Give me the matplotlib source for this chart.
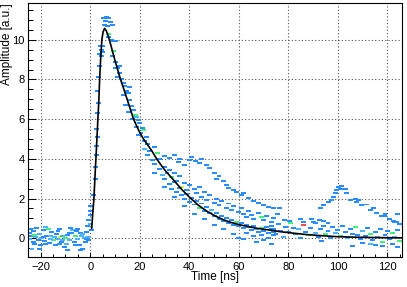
import numpy as np
import matplotlib
matplotlib.use("Agg")
import matplotlib.pyplot as plt
from matplotlib.ticker import MultipleLocator

plt.rcParams['font.family'] = ['Liberation Sans', 'DejaVu Sans']

# fit curve
fit_t = [0.6, 1.0, 1.5, 2.0, 2.3, 2.7, 3.1, 3.5, 3.8, 4.2, 4.7, 5.2, 5.8, 6.5, 7.5,
         8.5, 10.0, 12.1, 14.0, 15.8, 17.5, 19.5, 21.5, 23.2, 24.9, 26.9, 30.0, 33.6,
         37.0, 40.4, 43.5, 47.1, 50.5, 53.8, 57.0, 60.6, 64.0, 67.3, 72.7, 76.7, 81.0,
         86.1, 92.0, 99.6, 108.0, 117.0, 126.0]
fit_a = [0.5, 1.2, 2.0, 3.3, 4.0, 5.0, 6.0, 7.0, 8.0, 9.0, 10.0, 10.4, 10.57, 10.45, 10.1,
         9.65, 8.95, 8.06, 7.35, 6.65, 6.0, 5.45, 5.0, 4.7, 4.4, 3.98, 3.45, 2.94,
         2.45, 2.03, 1.68, 1.36, 1.12, 0.93, 0.79, 0.67, 0.58, 0.5, 0.41, 0.33, 0.27,
         0.2, 0.14, 0.08, 0.05, 0.03, 0.02]

# histogram cells: time, amplitude, count level
base_t = [-24.5, -24.5, -24, -23.5, -23, -23, -22.5, -22, -21.5, -21, -20.5, -20, -19.5,
          -19, -18.5, -18, -17.5, -17, -16.5, -16, -15.5, -15, -14.5, -14, -13.5, -13,
          -12.5, -12, -11.5, -11, -10.5, -10, -9.5, -9, -8.5, -8, -7.5, -7, -6.5, -6,
          -5.5, -5, -4.5, -4, -3.5, -3, -2.5, -2, -1.5, -1, -0.5, -24, -22.5, -19, -16,
          -13, -11, -8.5, -6, -3, -1.5, -20.5, -18, -12.5, -9, -5, -4]
base_a = [0.25, -0.05, 0.1, -0.55, 0.35, -0.2, 0.15, 0.05, 0.5, -0.1, 0.2, -0.35, 0.0,
          0.4, -0.15, 0.55, 0.1, 0.45, -0.25, 0.1, 0.3, -0.1, 0.05, -0.35, 0.2, -0.05,
          -0.3, 0.05, -0.2, 0.1, -0.45, 0.0, -0.3, 0.15, -0.1, 0.5, 0.25, 0.4, -0.2, 0.1,
          0.35, -0.05, -0.35, 0.25, 0.1, -0.55, 0.0, -0.2, 0.3, 0.05, -0.1, 0.45, -0.3, 0.05, -0.05,
          0.35, -0.1, 0.25, -0.35, 0.2, -0.05, -0.55, -0.3, 0.45, -0.6, 0.45, -0.6]
base_n = [1, 2, 1, 2, 1, 1, 3, 2, 1, 1, 2, 1, 2, 1, 1, 2, 1, 3, 1, 2, 1, 3, 2, 1, 1, 2,
          1, 4, 1, 2, 1, 3, 2, 1, 2, 1, 1, 2, 1, 3, 1, 2, 1, 1, 2, 1, 2, 1, 1, 2, 1,
          1, 1, 1, 2, 1, 2, 1, 1, 2, 1, 1, 1, 1, 1, 1, 1]

rise_t = [-1, -0.5, 0, 0, 0, 0.3, 0.5, 1.5, 2.0, 2.3, 2.6, 2.6, 2.8, 2.6, 3.0, 3.2, 3.0,
          3.4, 3.6, 3.8, 4.0, 4.5, 4.6]
rise_a = [0.6, 0.9, 1.15, 1.35, 1.6, 0.7, 0.4, 2.2, 3.0, 3.6, 4.2, 4.65, 5.1, 5.5, 6.3, 6.8,
          7.4, 8.1, 8.7, 9.3, 9.7, 9.5, 9.2]
rise_n = [1, 1, 1, 1, 1, 2, 1, 1, 1, 1, 1, 1, 1, 1, 1, 1, 1, 1, 1, 1, 1, 1, 1]

peak_t = [5.2, 6.5, 7.4, 6.0, 8.0, 5.8, 7.0, 9.0, 7.4, 7.5, 8.5, 9.4, 10.2, 5.0, 4.8,
          9.4, 9.0, 10.3, 10.0, 11.0, 11.9, 11.2, 12.6, 13.4, 14.0, 13.3, 14.6, 15.4,
          16.0, 14.2, 16.7, 15.5, 17.4, 18.2, 18.8, 17.2, 19.5, 18.8, 20.0, 21.0, 20.5,
          21.5, 22.7, 22.0, 23.0, 19.5, 16.0, 12.0]
peak_a = [11.1, 11.15, 11.1, 10.95, 10.9, 10.75, 10.7, 10.75, 10.3, 10.15, 10.0, 9.95,
          9.95, 9.7, 9.4, 9.45, 9.2, 8.9, 8.6, 8.6, 8.3, 8.1, 8.0, 7.8, 7.65, 7.2, 7.4,
          7.3, 6.95, 6.7, 6.65, 6.35, 6.45, 6.2, 6.1, 6.0, 5.95, 5.6, 5.8, 5.55, 5.3,
          5.45, 5.1, 4.9, 4.75, 5.2, 7.6, 8.7]
peak_n = [1, 1, 1, 1, 1, 1, 1, 1, 3, 1, 1, 1, 1, 1, 1, 3, 1, 1, 1, 1, 1, 1, 1, 1, 1, 1,
          1, 1, 1, 1, 1, 1, 1, 3, 2, 1, 1, 1, 1, 1, 1, 3, 1, 1, 1, 1, 1, 1]

tail_t = [30, 32, 34, 36, 35.5, 38, 40, 41, 42.5, 44, 45, 47, 48, 50, 52, 51, 54, 55, 56,
          58, 59, 61, 62, 64, 66, 68, 70, 72, 74,
          24, 26, 27, 28, 30, 31, 32, 33, 34, 35, 36, 37, 38, 39, 40, 42, 43, 44, 45, 46,
          47, 48, 50, 51, 52, 53, 55, 56, 57, 58, 60, 61, 62, 63, 64, 65, 66, 68, 69, 70,
          71, 73, 74,
          22, 23, 25, 26, 28, 29, 30, 32, 33, 34, 35, 36, 37, 38, 39, 40, 41, 42, 43, 44,
          45, 46, 47, 48, 49, 50, 51, 52, 53, 54, 55, 56, 57, 58, 59, 60, 61, 62, 63, 64,
          65, 66, 67, 68, 69, 70, 71, 72, 73, 74,
          26, 30, 34, 38, 42, 46, 50, 54, 58, 60, 62, 63, 66, 67, 69, 70, 72, 73, 74]
tail_a = [4.15, 4.05, 4.2, 4.0, 3.85, 3.7, 3.95, 4.1, 3.9, 3.8, 4.0, 3.7, 3.55, 3.3, 3.15,
          3.0, 2.9, 2.7, 2.55, 2.45, 2.35, 2.2, 2.3, 2.05, 1.9, 1.8, 1.65, 1.55, 1.5,
          4.4, 4.6, 4.3, 4.0, 3.6, 3.3, 3.45, 3.1, 3.3, 2.9, 3.15, 2.6, 2.8, 2.45, 2.7,
          2.5, 2.3, 2.6, 2.1, 2.35, 1.95, 2.2, 1.8, 2.0, 1.65, 1.9, 1.5, 1.75, 1.4, 1.6,
          1.3, 1.5, 1.2, 1.05, 1.35, 1.15, 0.95, 1.25, 1.05, 0.9, 1.1, 0.8, 1.0,
          4.5, 4.2, 3.95, 3.75, 3.5, 3.2, 3.0, 2.75, 2.5, 2.85, 2.35, 2.55, 2.2, 2.0, 2.25,
          1.85, 2.05, 1.7, 1.9, 1.5, 1.75, 1.35, 1.55, 1.25, 1.4, 1.1, 1.25, 0.95, 1.1,
          0.85, 1.0, 0.75, 0.9, 0.65, 0.8, 0.6, 0.75, 0.5, 0.65, 0.55, 0.4, 0.6, 0.45,
          0.3, 0.5, 0.35, 0.55, 0.25, 0.45, 0.3,
          3.3, 2.6, 2.1, 1.6, 1.2, 0.95, 0.65, 0.45, 0.2, 0.0, -0.05, 0.25, 0.1, -0.2,
          0.15, -0.1, 0.0, -0.3, 0.15]
tail_n = [1] * 29 + [1, 1, 3, 1, 1, 1, 1, 3, 1, 1, 1, 4, 1, 1, 1, 1, 1, 1, 1, 1, 1, 1,
                     1, 1, 1, 1, 1, 1, 1, 1, 1, 1, 1, 1, 1, 1, 1, 1, 3, 1, 1, 1, 1] + \
         [2, 1, 1, 1, 1, 2, 1, 1, 1, 1, 1, 1, 1, 1, 1, 1, 1, 1, 1, 3, 1, 1, 1, 1, 2, 1,
          1, 1, 1, 1, 1, 1, 1, 1, 3, 1, 1, 1, 1, 1, 1, 1, 2, 1, 3, 1, 1, 1, 1, 1, 1, 1,
          1, 1] + [1] * 19

late_t = [73, 74, 75, 76, 77, 78, 79, 80, 81, 82, 83, 84, 85, 86, 87, 88, 89, 90, 91, 92,
          93, 94, 95, 96, 97, 98, 99, 100, 101, 102, 103, 104, 105, 106, 107, 108, 109,
          110, 111, 112, 113, 114, 115, 116, 117, 118, 119, 120, 121, 122, 123, 124, 125,
          93.5, 106, 113, 115, 118, 122, 124, 110,
          75.5, 76.5, 78.5, 80.5, 85, 86, 89.5, 91, 92.5, 94, 96, 119, 121, 123, 124, 125]
late_a = [0.6, 0.45, 0.2, 0.7, 0.35, 0.05, 0.55, 0.3, 0.75, 0.5, 0.2, 0.45, 0.0, 0.65,
          0.3, 0.15, 0.5, 0.8, 0.25, 0.05, 0.45, 0.6, 0.2, 0.35, 0.0, 0.55, 0.25, 0.4,
          0.1, 0.6, 0.3, 0.0, 0.45, 0.2, 0.55, 0.15, -0.05, 0.35, 0.1, 0.5, 0.2, -0.1,
          0.3, 0.05, 0.45, -0.2, 0.15, 0.35, -0.05, 0.25, 0.05, 0.4, -0.15,
          -0.15, -0.4, -0.3, -0.35, -0.4, -0.3, -0.45, -0.25,
          1.2, 1.5, 0.9, 0.85, 0.95, 0.8, 0.95, 0.75, 0.9, 0.85, 0.75, 1.1, 0.95, 0.8, 1.2, 0.7]
late_n = [1, 2, 1, 1, 3, 1, 1, 2, 1, 5, 1, 3, 1, 1, 2, 1, 1, 1, 3, 1, 1, 1, 2, 1, 3, 1,
          1, 2, 1, 1, 3, 1, 1, 2, 1, 1, 3, 1, 1, 2, 1, 3, 1, 1, 1, 3, 2, 1, 3, 1, 1, 2, 1] + \
         [1] * 8 + [1] * 16

bump_t = [92.9, 94.2, 96.2, 97.5, 98.2, 98.9, 99.6, 100.2, 101.6, 100.9, 102.9, 103.6,
          105.0, 107.0, 108.3, 107.6, 109.7, 111.7, 113.0, 114.3, 115.7, 117.7, 119.0,
          121.0, 122.4, 123.7]
bump_a = [1.51, 1.68, 1.85, 1.93, 2.1, 2.26, 2.43, 2.6, 2.63, 2.46, 2.5, 2.3, 1.93, 2.0,
          1.95, 1.84, 1.68, 1.7, 1.43, 1.5, 1.26, 1.1, 1.2, 0.95, 0.87, 0.8]

level_colors = {1: '#2a8dff', 2: '#4cb4ff', 3: '#3ef07c', 4: '#d8f040', 5: '#ff4a4a'}

cell_t = base_t + rise_t + peak_t + tail_t + late_t + bump_t
cell_a = base_a + rise_a + peak_a + tail_a + late_a + bump_a
cell_n = base_n + rise_n + peak_n + tail_n + late_n + [1] * len(bump_t)

fig = plt.figure(figsize=(4.07, 2.87), dpi=100)
ax = fig.add_axes([0.0695, 0.1035, 0.919, 0.886])

dh = 0.1
ax.bar(cell_t, dh, bottom=np.array(cell_a) - dh / 2, width=2.0,
       color=[level_colors[n] for n in cell_n], linewidth=0, zorder=2)

ax.plot(fit_t, fit_a, color='black', lw=1.2, zorder=3)

ax.set_xlim(-25, 126)
ax.set_ylim(-0.96, 11.85)
ax.xaxis.set_major_locator(MultipleLocator(20))
ax.xaxis.set_minor_locator(MultipleLocator(5))
ax.yaxis.set_major_locator(MultipleLocator(2))
ax.yaxis.set_minor_locator(MultipleLocator(0.5))
ax.grid(True, which='major', color='#555555', linestyle=(0, (1, 2)), linewidth=0.8, zorder=1)
ax.set_axisbelow(True)

ax.tick_params(axis='both', which='both', direction='in', top=False, right=False,
               labelsize=8, width=0.7)
ax.tick_params(axis='x', which='major', length=3.6, pad=3.5)
ax.tick_params(axis='x', which='minor', length=2.2)
ax.tick_params(axis='y', which='major', length=5.5, pad=2.4)
ax.tick_params(axis='y', which='minor', length=3.6)
for s in ax.spines.values():
    s.set_linewidth(0.8)

fig.text(215 / 407, 1 - 271 / 287, 'Time [ns]', ha='center', va='top', fontsize=8.5)
fig.text(7 / 407, 1 - 3 / 287, 'Amplitude [a.u.]', ha='center', va='top',
         rotation=90, fontsize=8.5)

fig.savefig('out.png', dpi=100)
